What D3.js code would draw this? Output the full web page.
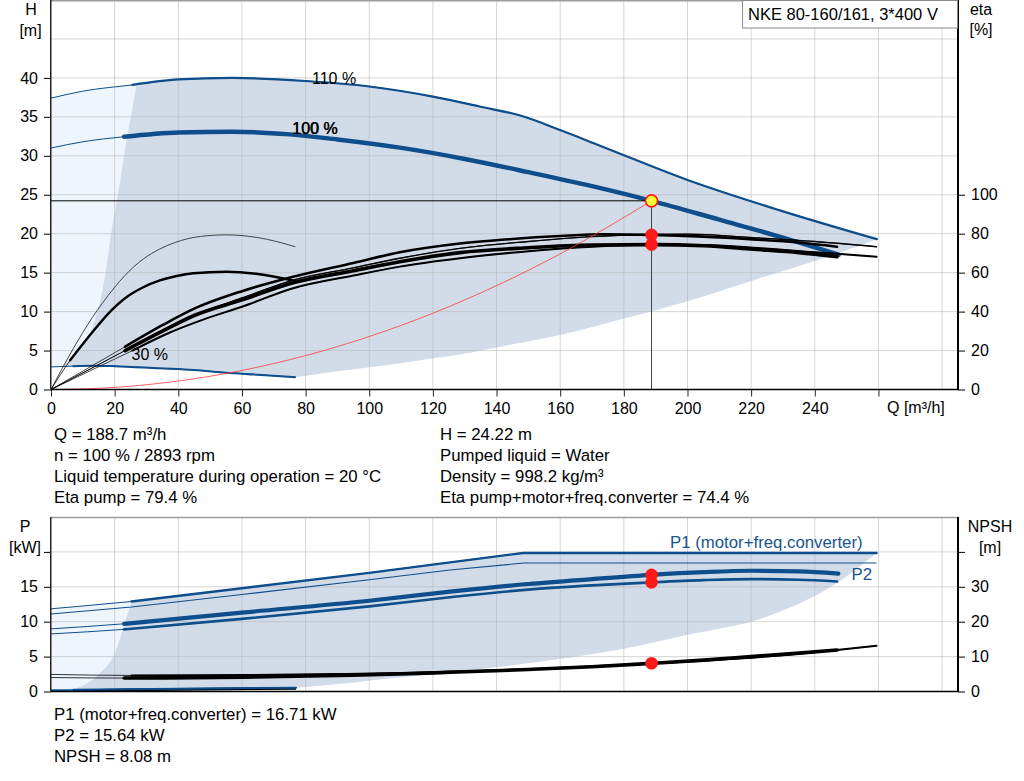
<!DOCTYPE html>
<html><head><meta charset="utf-8">
<script src="https://cdn.jsdelivr.net/npm/d3@7"></script>
<style>
body{margin:0;background:#fff;}
svg{display:block;font-family:"Liberation Sans",Arial,sans-serif;}
</style></head><body>
<svg id="c" width="1024" height="781"></svg>
<script>
// ---------------- DATA ----------------
const xTicks = [0,20,40,60,80,100,120,140,160,180,200,220,240];
const hTicks = [0,5,10,15,20,25,30,35,40];
const etaTicks = [0,20,40,60,80,100];
const pTicks = [0,5,10,15,20];
const npshTicks = [0,10,20,30,40];

// Head curves (Q m3/h, H m)
const qH110 = [0,10,25.6,40,57,80,100,120,135,148,160,172.5,200,229,259.5];
const h110  = [37.4,38.3,39.1,39.8,40.0,39.6,38.9,37.6,36.3,35.1,33.3,31.3,26.9,23.0,19.3];
const qH100 = [0,10,23,40,57,75,90,109.6,130,150,170,188.7,210,230,247.5];
const h100  = [31.0,31.8,32.45,33.0,33.1,32.75,32.1,31.05,29.6,27.9,26.1,24.22,21.8,19.5,17.3];
const qH30  = [0,7,13,20,34,45,55,65,76.7];
const h30   = [2.9,3.0,3.06,3.0,2.72,2.5,2.16,1.9,1.57];

// Operating range shading (top)
const qLowH = [76.7,90,97,109.6,120,128.5,141,159.9,180.8,199.7,220.5,245.7,259.5];
const hLowH = [1.57,2.35,2.7,3.36,4.0,4.5,5.5,7.0,9.2,11.3,14.0,17.3,19.3];
const qLeftH = [3.5,4.9,9.1,13.8,16.4,19.6,20.8,24,26.9];
const hLeftH = [2.95,3.4,5.5,8.9,13.2,21.8,24.5,32.5,39.15];

// Efficiency curves (eta %)
const qEtaP30 = [0,7,13,16,20,26,29,34,39,47,55,65,76.8];
const etaP30  = [0,21,37,44,52.5,63,67,72,75.5,78.6,79.4,78,73.3];
const qEtaT30 = [0,6,13.3,18,23.8,29,34.2,39.5,44.7,55.2,65,76.7];
const etaT30  = [0,15,30,39,47.5,52.5,56,58.3,59.7,60.5,59.3,55.7];
const qEtaP100 = [0,23.3,35,45,60,76.1,95,109.6,128.5,145,160,173.5,188.7,205,220.6,235,247];
const etaP100  = [0,22,33,41.5,50.5,57.9,65,70.5,75,77.3,78.8,79.7,79.4,78.5,77.1,75.5,73.3];
const qEtaP110 = [0,25.6,37,48,60,76.1,95,109.6,128.5,150,170,188.7,200,220.6,240,259.4];
const etaP110  = [0,22,32,40,47,56.2,62.5,67.4,72.5,76,78.5,79.6,79.8,78,76,73.3];
const qEtaT100 = [0,23.3,35,45,60,76.1,95,109.6,128.5,150,170,188.7,205,220.6,235,247];
const etaT100  = [0,20,30,38,46,54.8,61,65.6,70.3,72.8,74.2,74.4,73.8,72,70.3,68.2];
const qEtaT110 = [0,25.6,37,48,60,76.1,95,109.6,128.5,150,170,188.7,205,220.6,240,259.4];
const etaT110  = [0,20,29,36,42.5,52,58.5,63.1,67.4,71,73.3,74.3,74.2,72.8,70.5,68.2];

// System curve
const qSys = [0,20,40,60,80,100,120,140,160,188.7];
const hSys = [0,0.27,1.09,2.45,4.35,6.8,9.79,13.33,17.41,24.22];

// Power curves (kW)
const qP1_110 = [0,10,25.3,60,100,125.4,148.4,200,259.4];
const p1_110  = [11.85,12.25,12.9,14.8,17.0,18.5,19.85,19.85,19.85];
const qP2_110 = [0,25.3,60,100,125.4,148.4,200,259.4];
const p2_110  = [11.1,12.1,13.9,16.0,17.4,18.4,18.4,18.4];
const qP1_100 = [0,23,60,100,125.4,150,170,188.7,205,220,235,247.4];
const p1_100  = [8.97,9.7,11.3,13.0,14.3,15.4,16.1,16.71,17.1,17.3,17.2,16.9];
const qP2_100 = [0,23,60,100,125.4,150,170,188.7,205,220,235,247];
const p2_100  = [8.25,8.9,10.4,12.2,13.5,14.6,15.2,15.64,15.95,16.1,16.0,15.75];
const qP1_30 = [0,7,40,77];
const p1_30  = [0.22,0.25,0.4,0.55];
const qP2_30 = [0,7,40,77];
const p2_30  = [0.15,0.18,0.3,0.45];

// NPSH curves (m)
const qN100 = [0,23,60,90,109.6,125.4,150,170,188.7,205,220,235,247];
const n100  = [4.0,3.85,4.1,4.6,5.0,5.5,6.3,7.1,8.08,9.0,10.0,11.0,11.9];
const qN110 = [0,25.3,60,90,109.6,125.4,150,170,188.7,205,220,235,247,259.4];
const n110  = [4.9,4.6,4.7,5.0,5.3,5.7,6.4,7.2,8.0,8.8,9.7,10.8,11.9,13.1];
const qN30 = [7,40,77];
const n30  = [0.3,0.6,0.9];

// Operating range shading (bottom)
const qLowP = [77,95,109.6,125,141,162,183,199.7,224.8,246.8,259.4];
const pLowP = [0.55,1.3,2.05,2.7,3.56,4.8,6.4,8.1,10.7,15.5,19.85];
const qLeftP = [7,15.4,20.1,23.8,25.3];
const pLeftP = [0.25,2.6,5.5,10.7,12.9];

// Duty point
const dutyQ = 188.7, dutyH = 24.22, dutyEtaP = 79.4, dutyEtaT = 74.4;
const dutyP1 = 16.71, dutyP2 = 15.64, dutyNPSH = 8.08;

const infoLeft = ["Q = 188.7 m³/h","n = 100 % / 2893 rpm","Liquid temperature during operation = 20 °C","Eta pump = 79.4 %"];
const infoRight = ["H = 24.22 m","Pumped liquid = Water","Density = 998.2 kg/m³","Eta pump+motor+freq.converter = 74.4 %"];
const infoBottom = ["P1 (motor+freq.converter) = 16.71 kW","P2 = 15.64 kW","NPSH = 8.08 m"];
const title = "NKE 80-160/161, 3*400 V";

// ---------------- DRAW ----------------
const BLUE = "#0f4e8c", SHADE = "#d1dce8", LIGHT = "#eef5fd";
const svg = d3.select('#c');
const x = d3.scaleLinear().domain([0,285]).range([51,958]);
const yH = d3.scaleLinear().domain([0,50]).range([389.5,0]);
const yEta = d3.scaleLinear().domain([0,200]).range([389.5,0]);
const yP = d3.scaleLinear().domain([0,25]).range([691.5,517]);
const yN = d3.scaleLinear().domain([0,50]).range([691.5,517]);

const pts = (q,v) => q.map((d,i)=>[d,v[i]]);
const mono = d3.curveMonotoneX, lin = d3.curveLinear;
function piece(P, ys, curve, first){
  const s = d3.line().x(d=>x(d[0])).y(d=>ys(d[1])).curve(curve)(P);
  return first ? s : s.replace(/^M/,'L');
}
function curve(g, q, v, ys, o){
  const P = pts(q,v);
  const line = d3.line().x(d=>x(d[0])).y(d=>ys(d[1])).curve(o.curve||mono);
  g.append('path').attr('d',line(P)).attr('fill','none').attr('stroke',o.color)
    .attr('stroke-width',o.thin||0.8);
  if(o.start!=null){
    const T = P.filter(d=>d[0]>=o.start);
    g.append('path').attr('d',line(T)).attr('fill','none').attr('stroke',o.color)
      .attr('stroke-width',o.thick).attr('stroke-linecap','round');
  }
}

const defs = svg.append('defs');
defs.append('clipPath').attr('id','ct').append('rect').attr('x',51).attr('y',0).attr('width',907).attr('height',389.5);
defs.append('clipPath').attr('id','cb').append('rect').attr('x',51).attr('y',517).attr('width',907).attr('height',174.5);

// ---- TOP CHART ----
const gt = svg.append('g').attr('clip-path','url(#ct)');
{
  const top = pts(qH110,h110);
  const low = pts(qLowH,hLowH).reverse();
  const b30 = pts(qH30,h30).reverse();
  const env = piece(top,yH,mono,true)+piece(low,yH,mono,false)+piece(b30,yH,mono,false)+'Z';
  gt.append('path').attr('d',env).attr('fill',LIGHT);
  const left = pts(qLeftH,hLeftH);
  const topD = [left[left.length-1]].concat(top.filter(d=>d[0]>left[left.length-1][0]));
  const b30D = b30.filter(d=>d[0]>left[0][0]).concat([left[0]]);
  const dark = piece(topD,yH,mono,true)+piece(low,yH,mono,false)+piece(b30D,yH,mono,false)+piece(left,yH,mono,false)+'Z';
  gt.append('path').attr('d',dark).attr('fill',SHADE);
}
const gridT = svg.append('g').attr('stroke','#b4b4b4').attr('stroke-opacity',0.55).attr('stroke-width',1);
d3.range(20,290,20).forEach(q=>gridT.append('line').attr('x1',x(q)).attr('x2',x(q)).attr('y1',0).attr('y2',389.5));
d3.range(5,50,5).forEach(h=>gridT.append('line').attr('x1',51).attr('x2',958).attr('y1',yH(h)).attr('y2',yH(h)));

const gc = svg.append('g').attr('clip-path','url(#ct)');
curve(gc,qH30,h30,yH,{color:BLUE,thin:1,start:7,thick:2});
curve(gc,qH110,h110,yH,{color:BLUE,thin:1,start:25.6,thick:2.2});
curve(gc,qH100,h100,yH,{color:BLUE,thin:1,start:23,thick:4.5});
curve(gc,qEtaP30,etaP30,yEta,{color:'#333',thin:0.9});
curve(gc,qEtaT30,etaT30,yEta,{color:'#000',thin:0.8,start:6,thick:2.4});
curve(gc,qEtaP110,etaP110,yEta,{color:'#000',thin:0.7,start:25.6,thick:1.3});
curve(gc,qEtaT110,etaT110,yEta,{color:'#000',thin:0.7,start:25.6,thick:2});
curve(gc,qEtaP100,etaP100,yEta,{color:'#000',thin:0.7,start:23.3,thick:2.6});
curve(gc,qEtaT100,etaT100,yEta,{color:'#000',thin:0.7,start:23.3,thick:3.6});
gc.append('path').attr('d',d3.line().x(d=>x(d[0])).y(d=>yH(d[1])).curve(mono)(pts(qSys,hSys)))
  .attr('fill','none').attr('stroke','#ff3b3b').attr('stroke-width',0.8);
gc.append('line').attr('x1',51).attr('x2',x(dutyQ)).attr('y1',yH(dutyH)).attr('y2',yH(dutyH)).attr('stroke','#000').attr('stroke-width',1);
gc.append('line').attr('x1',x(dutyQ)).attr('x2',x(dutyQ)).attr('y1',yH(dutyH)).attr('y2',389.5).attr('stroke','#444').attr('stroke-width',1);
gc.append('circle').attr('cx',x(dutyQ)).attr('cy',yEta(dutyEtaT)).attr('r',6.3).attr('fill','#ff1a1a');
gc.append('circle').attr('cx',x(dutyQ)).attr('cy',yEta(dutyEtaP)).attr('r',6.3).attr('fill','#ff1a1a');
gc.append('circle').attr('cx',x(dutyQ)).attr('cy',yH(dutyH)).attr('r',6).attr('fill','#ffff33').attr('stroke','#ff1a1a').attr('stroke-width',1.6);

const lab = (t,xx,yy,col,fs)=>svg.append('text').attr('x',xx).attr('y',yy).attr('fill',col||'#000').attr('font-size',fs||16).text(t);
lab('110 %',312,84);
lab('100 %',292,133.5);
lab('100 %',292.6,134);
lab('30 %',131.5,359.5);

const axStyle = g=>{g.selectAll('text').attr('font-size',16).attr('fill','#000').attr('font-family','"Liberation Sans",Arial,sans-serif');
  g.selectAll('line').attr('stroke','#000'); g.select('.domain').remove();};
svg.append('g').attr('transform','translate(51,0)')
  .call(d3.axisLeft(yH).tickValues(hTicks).tickSize(7).tickPadding(6).tickSizeOuter(0)).call(axStyle);
svg.append('g').attr('transform','translate(958,0)')
  .call(d3.axisRight(yEta).tickValues(etaTicks).tickSize(7).tickPadding(6).tickSizeOuter(0)).call(axStyle);
svg.append('g').attr('transform','translate(0,389.5)')
  .call(d3.axisBottom(x).tickValues(xTicks.concat([260])).tickFormat(d=>d===260?'':d).tickSize(7).tickPadding(6).tickSizeOuter(0)).call(axStyle)
  .selectAll('line').attr('stroke','#222');
svg.append('line').attr('x1',51).attr('x2',958).attr('y1',0.75).attr('y2',0.75).attr('stroke','#9c9c9c').attr('stroke-width',1.5);
svg.append('line').attr('x1',50.75).attr('x2',50.75).attr('y1',0).attr('y2',389.5).attr('stroke','#222').attr('stroke-width',1.5);
svg.append('line').attr('x1',958).attr('x2',958).attr('y1',0).attr('y2',390).attr('stroke','#000').attr('stroke-width',2);
svg.append('line').attr('x1',51).attr('x2',958).attr('y1',389.5).attr('y2',389.5).attr('stroke','#000').attr('stroke-width',1.5);
lab('Q [m³/h]',887,413);
svg.append('text').attr('x',31).attr('y',15).attr('text-anchor','middle').attr('font-size',16).text('H');
svg.append('text').attr('x',30.5).attr('y',36).attr('text-anchor','middle').attr('font-size',16).text('[m]');
svg.append('text').attr('x',981).attr('y',15).attr('text-anchor','middle').attr('font-size',16).text('eta');
svg.append('text').attr('x',981).attr('y',35).attr('text-anchor','middle').attr('font-size',16).text('[%]');
svg.append('rect').attr('x',742.5).attr('y',0.5).attr('width',215).attr('height',27.5).attr('fill','#fff').attr('stroke','#8a8a8a').attr('stroke-width',1);
svg.append('text').attr('x',748).attr('y',19.5).attr('font-size',16.5).text(title);

infoLeft.forEach((t,i)=>svg.append('text').attr('x',54).attr('y',439.5+i*21.2).attr('font-size',16.8).text(t));
infoRight.forEach((t,i)=>svg.append('text').attr('x',440).attr('y',439.5+i*21.2).attr('font-size',16.8).text(t));
infoBottom.forEach((t,i)=>svg.append('text').attr('x',54).attr('y',719.5+i*21.2).attr('font-size',16.8).text(t));

// ---- BOTTOM CHART ----
const gb = svg.append('g').attr('clip-path','url(#cb)');
{
  const top = pts(qP1_110,p1_110);
  const low = pts(qLowP,pLowP).reverse();
  const b30 = pts(qP1_30,p1_30).reverse();
  const env = piece(top,yP,lin,true)+piece(low,yP,mono,false)+piece(b30,yP,mono,false)+'Z';
  gb.append('path').attr('d',env).attr('fill',LIGHT);
  const left = pts(qLeftP,pLeftP);
  const L = left[left.length-1];
  const topD = [L].concat(top.filter(d=>d[0]>L[0]));
  const b30D = b30.filter(d=>d[0]>left[0][0]).concat([left[0]]);
  const dark = piece(topD,yP,lin,true)+piece(low,yP,mono,false)+piece(b30D,yP,mono,false)+piece(left,yP,mono,false)+'Z';
  gb.append('path').attr('d',dark).attr('fill',SHADE);
}
const gridB = svg.append('g').attr('stroke','#b4b4b4').attr('stroke-opacity',0.55).attr('stroke-width',1);
d3.range(20,290,20).forEach(q=>gridB.append('line').attr('x1',x(q)).attr('x2',x(q)).attr('y1',517).attr('y2',691.5));
d3.range(5,25,5).forEach(p=>gridB.append('line').attr('x1',51).attr('x2',958).attr('y1',yP(p)).attr('y2',yP(p)));

const gb2 = svg.append('g').attr('clip-path','url(#cb)');
curve(gb2,qP2_30,p2_30,yP,{color:BLUE,thin:1.2});
curve(gb2,qN30,n30,yN,{color:'#000',thin:2.6});
curve(gb2,qP1_30,p1_30,yP,{color:BLUE,thin:1,start:7,thick:2});
curve(gb2,qP2_110,p2_110,yP,{color:BLUE,thin:1.1,curve:lin});
curve(gb2,qP1_110,p1_110,yP,{color:BLUE,thin:1,start:25.3,thick:2.4,curve:lin});
curve(gb2,qP2_100,p2_100,yP,{color:BLUE,thin:1,start:23,thick:2.6});
curve(gb2,qP1_100,p1_100,yP,{color:BLUE,thin:1,start:23,thick:4.2});
curve(gb2,qN110,n110,yN,{color:'#000',thin:0.8,start:25.3,thick:2});
curve(gb2,qN100,n100,yN,{color:'#000',thin:0.8,start:23,thick:3.6});
gb2.append('circle').attr('cx',x(dutyQ)).attr('cy',yP(dutyP2)).attr('r',6.3).attr('fill','#ff1a1a');
gb2.append('circle').attr('cx',x(dutyQ)).attr('cy',yP(dutyP1)).attr('r',6.3).attr('fill','#ff1a1a');
gb2.append('circle').attr('cx',x(dutyQ)).attr('cy',yN(dutyNPSH)).attr('r',6.3).attr('fill','#ff1a1a');

lab('P1 (motor+freq.converter)',670,547.5,'#1a5390',16.8);
lab('P2',851.5,579.5,'#1a5390',16.8);

svg.append('g').attr('transform','translate(51,0)')
  .call(d3.axisLeft(yP).tickValues(pTicks).tickFormat(d=>d===20?'':d).tickSize(7).tickPadding(6).tickSizeOuter(0)).call(axStyle);
svg.append('g').attr('transform','translate(958,0)')
  .call(d3.axisRight(yN).tickValues(npshTicks).tickFormat(d=>d===40?'':d).tickSize(7).tickPadding(6).tickSizeOuter(0)).call(axStyle);
svg.append('line').attr('x1',51).attr('x2',958).attr('y1',517.5).attr('y2',517.5).attr('stroke','#9c9c9c').attr('stroke-width',1.5);
svg.append('line').attr('x1',50.75).attr('x2',50.75).attr('y1',517).attr('y2',691.5).attr('stroke','#222').attr('stroke-width',1.5);
svg.append('line').attr('x1',958).attr('x2',958).attr('y1',517).attr('y2',692).attr('stroke','#000').attr('stroke-width',2);
svg.append('line').attr('x1',51).attr('x2',958).attr('y1',691.5).attr('y2',691.5).attr('stroke','#000').attr('stroke-width',1.5);
svg.append('text').attr('x',25).attr('y',532).attr('text-anchor','middle').attr('font-size',16).text('P');
svg.append('text').attr('x',25).attr('y',552.5).attr('text-anchor','middle').attr('font-size',16).text('[kW]');
svg.append('text').attr('x',990).attr('y',532).attr('text-anchor','middle').attr('font-size',16).text('NPSH');
svg.append('text').attr('x',990).attr('y',552.5).attr('text-anchor','middle').attr('font-size',16).text('[m]');
</script>
</body></html>
